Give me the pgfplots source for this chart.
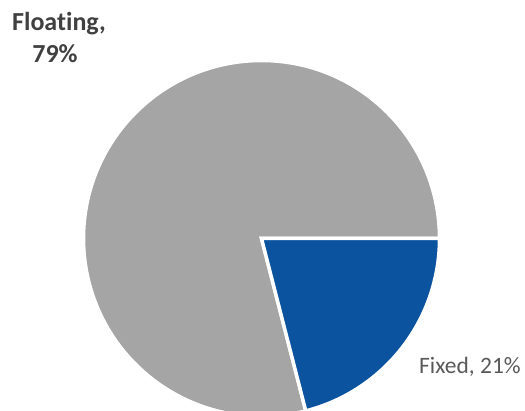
\documentclass[border=0pt]{standalone}
\usepackage{pgfplots}
\usepackage{pgfplotstable}
\pgfplotsset{compat=1.18}
\usepackage{fontspec}
\setmainfont{Carlito}[Ligatures={NoCommon,NoDiscretionary}]
\definecolor{pgray}{HTML}{A5A5A5}
\definecolor{pblue}{HTML}{0B539F}
\definecolor{lab1}{HTML}{404040}
\definecolor{lab2}{HTML}{595959}
\pgfplotstableread{
label value
Fixed 21
Floating 79
}\piedata
\pgfplotstablegetelem{0}{value}\of\piedata
\let\vFixed\pgfplotsretval
\pgfplotstablegetelem{1}{value}\of\piedata
\let\vFloating\pgfplotsretval
\pgfmathsetmacro\aFixed{-3.6*\vFixed}
\pgfmathsetmacro\aFloat{3.6*\vFloating}
\begin{document}
\begin{tikzpicture}
\begin{axis}[
  hide axis,
  scale only axis,
  width=525bp, height=411bp,
  xmin=0, xmax=525, ymin=0, ymax=411,
  clip=true,
]
\addplot[draw=none, forget plot] coordinates {(0,0) (525,411)};
\fill[pgray, draw=white, line width=3.5bp, line join=miter]
  (axis cs:261.5,172.5) -- ++(0:178bp) arc[start angle=0, end angle=\aFloat, radius=178bp] -- cycle;
\fill[pblue, draw=white, line width=3.5bp, line join=miter]
  (axis cs:261.5,172.5) -- ++(0:178bp) arc[start angle=0, end angle=\aFixed, radius=178bp] -- cycle;
\coordinate (ll) at (axis cs:0,0);
\coordinate (ur) at (axis cs:525,411);
\node[anchor=base, text=lab1, font=\fontsize{26bp}{31bp}\selectfont\bfseries, inner sep=0pt] at (axis cs:59,380) {Floating,};
\node[anchor=base, text=lab1, font=\fontsize{26bp}{31bp}\selectfont\bfseries, inner sep=0pt] at (axis cs:55,348) {79\%};
\node[anchor=base west, text=lab2, font=\fontsize{23.5bp}{28bp}\selectfont, inner sep=0pt] at (axis cs:419,37) {Fixed, 21\%};
\end{axis}
\pgfresetboundingbox
\path (ll) rectangle (ur);
\end{tikzpicture}
\end{document}
